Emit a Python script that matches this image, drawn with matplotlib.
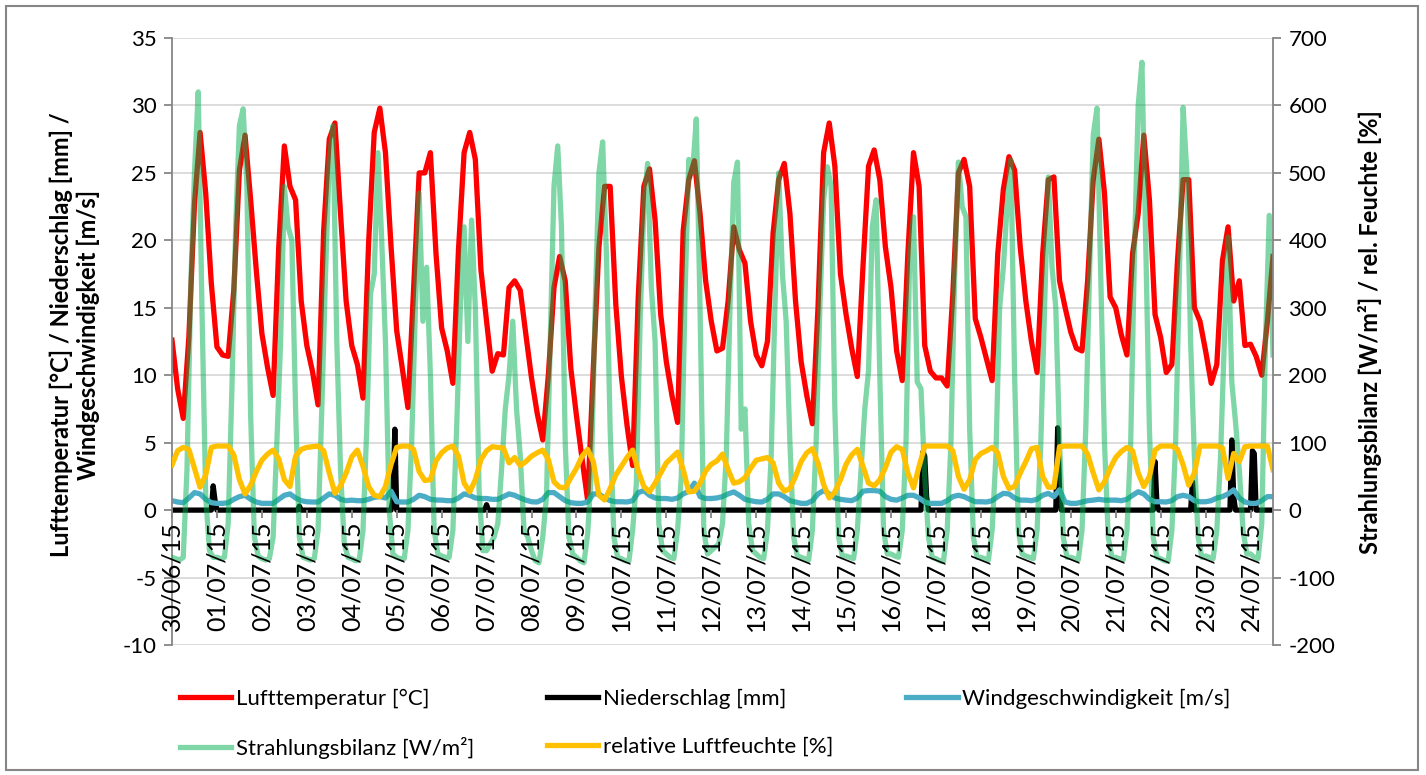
import numpy as np
import pandas as pd
import matplotlib
matplotlib.use('Agg')
import matplotlib.pyplot as plt
from matplotlib.patches import Rectangle

plt.rcParams['font.family'] = ['Lato', 'DejaVu Sans']
plt.rcParams['axes.unicode_minus'] = False

# day labels on the category axis
day_labels = list(pd.date_range('2015-06-30', periods=25, freq='D').strftime('%d/%m/%y'))

# Lufttemperatur [°C], 3-hourly (00,03,...,21 h), one row per day
temp_rows = [
    [12.6, 9.0, 6.8, 12.8, 22.7, 28.0, 23.5, 16.8],
    [12.1, 11.5, 11.4, 16.3, 25.2, 27.8, 23.0, 17.8],
    [13.1, 10.6, 8.5, 19.5, 27.0, 24.0, 23.0, 15.5],
    [12.2, 10.3, 7.8, 20.7, 27.5, 28.7, 22.0, 15.5],
    [12.2, 10.8, 8.3, 19.8, 28.0, 29.8, 26.5, 19.5],
    [13.3, 10.5, 7.6, 16.3, 25.0, 25.0, 26.5, 19.0],
    [13.5, 11.8, 9.4, 19.3, 26.5, 28.0, 26.0, 17.8],
    [14.0, 10.3, 11.6, 11.5, 16.5, 17.0, 16.3, 13.0],
    [9.8, 7.2, 5.2, 10.0, 16.5, 18.8, 17.0, 10.5],
    [7.0, 3.8, 0.7, 10.5, 19.5, 24.0, 24.0, 15.3],
    [9.9, 6.3, 3.3, 15.8, 24.0, 25.3, 21.5, 14.5],
    [11.0, 8.5, 6.5, 20.7, 24.5, 25.9, 22.0, 17.0],
    [14.0, 11.8, 12.0, 15.5, 21.0, 19.3, 18.3, 14.0],
    [11.5, 10.7, 12.5, 20.5, 24.5, 25.7, 22.0, 15.5],
    [11.0, 8.5, 6.4, 15.0, 26.5, 28.7, 25.5, 17.5],
    [14.5, 12.0, 9.9, 18.0, 25.5, 26.7, 24.5, 19.5],
    [16.5, 11.8, 9.6, 19.0, 26.5, 24.0, 12.2, 10.3],
    [9.8, 9.8, 9.2, 16.0, 25.0, 26.0, 24.0, 14.2],
    [12.8, 11.2, 9.6, 19.0, 23.8, 26.2, 25.2, 19.5],
    [15.5, 12.5, 10.2, 19.0, 24.5, 24.7, 17.0, 15.0],
    [13.2, 12.0, 11.8, 17.0, 24.5, 27.5, 23.5, 15.8],
    [15.0, 13.0, 11.5, 19.0, 22.0, 27.8, 23.0, 14.5],
    [12.8, 10.2, 10.8, 18.5, 24.5, 24.5, 15.0, 14.0],
    [11.8, 9.4, 10.8, 18.5, 21.0, 15.5, 17.0, 12.2],
    [12.3, 11.4, 10.0, 14.0, 18.8],
]

# Windgeschwindigkeit [m/s], 3-hourly
wind_rows = [
    [0.7, 0.6, 0.55, 0.9, 1.3, 1.2, 0.8, 0.55],
    [0.5, 0.5, 0.55, 0.8, 1.0, 1.1, 0.8, 0.6],
    [0.5, 0.5, 0.5, 0.8, 1.1, 1.2, 0.9, 0.7],
    [0.62, 0.6, 0.6, 0.9, 1.2, 1.1, 0.8, 0.7],
    [0.74, 0.7, 0.7, 0.8, 0.95, 1.0, 0.9, 1.4],
    [0.62, 0.6, 0.6, 0.8, 1.1, 1.0, 0.8, 0.75],
    [0.74, 0.7, 0.7, 0.9, 1.2, 1.1, 0.9, 0.86],
    [0.86, 0.8, 0.8, 1.0, 1.2, 1.1, 0.9, 0.74],
    [0.62, 0.6, 0.8, 1.3, 1.3, 1.0, 0.7, 0.55],
    [0.5, 0.5, 0.6, 1.2, 1.2, 0.9, 0.7, 0.62],
    [0.62, 0.6, 0.7, 1.3, 1.45, 1.1, 0.9, 0.86],
    [0.86, 0.8, 0.9, 1.2, 1.4, 2.0, 1.0, 0.86],
    [0.86, 0.9, 1.0, 1.2, 1.35, 1.1, 0.8, 0.7],
    [0.62, 0.6, 0.8, 1.2, 1.2, 1.0, 0.7, 0.6],
    [0.5, 0.5, 0.7, 1.2, 1.45, 1.2, 0.9, 0.8],
    [0.74, 0.7, 0.9, 1.4, 1.45, 1.45, 1.4, 1.0],
    [0.8, 0.74, 0.9, 1.1, 1.1, 0.9, 0.6, 0.5],
    [0.5, 0.5, 0.7, 1.0, 1.1, 1.0, 0.8, 0.62],
    [0.62, 0.6, 0.7, 1.0, 1.24, 1.2, 0.9, 0.74],
    [0.74, 0.7, 0.8, 1.1, 1.24, 1.0, 1.5, 0.6],
    [0.5, 0.5, 0.6, 0.7, 0.74, 0.8, 0.74, 0.74],
    [0.74, 0.7, 0.8, 1.1, 1.36, 1.2, 0.8, 0.62],
    [0.62, 0.6, 0.7, 1.0, 1.1, 1.0, 0.7, 0.62],
    [0.62, 0.7, 0.9, 1.0, 1.2, 1.5, 0.9, 0.6],
    [0.5, 0.5, 0.7, 1.0, 1.0],
]

# relative Luftfeuchte [%], 3-hourly
rh_rows = [
    [67, 88, 93, 90, 62, 34, 52, 93],
    [95, 95, 95, 82, 45, 24, 37, 57],
    [74, 83, 89, 76, 45, 35, 80, 90],
    [93, 94, 95, 88, 55, 25, 36, 55],
    [79, 89, 65, 35, 22, 20, 35, 68],
    [93, 95, 95, 90, 57, 44, 45, 73],
    [85, 92, 95, 80, 40, 27, 45, 75],
    [88, 94, 93, 92, 70, 78, 66, 72],
    [80, 85, 89, 75, 42, 34, 33, 48],
    [62, 80, 90, 72, 22, 15, 32, 52],
    [65, 78, 89, 58, 35, 27, 40, 55],
    [70, 78, 86, 60, 27, 28, 40, 58],
    [68, 73, 83, 60, 40, 42, 48, 62],
    [74, 76, 78, 70, 40, 28, 32, 50],
    [72, 85, 91, 70, 38, 18, 27, 45],
    [68, 82, 90, 65, 40, 36, 45, 63],
    [86, 94, 90, 55, 33, 65, 95, 95],
    [95, 95, 95, 88, 50, 31, 45, 75],
    [84, 88, 93, 85, 50, 32, 35, 55],
    [72, 91, 93, 50, 34, 34, 94, 95],
    [95, 95, 95, 83, 55, 30, 42, 62],
    [78, 87, 93, 88, 55, 35, 50, 89],
    [95, 95, 95, 90, 67, 37, 55, 95],
    [95, 95, 95, 92, 47, 84, 72, 94],
    [95, 95, 95, 95, 60],
]

# Strahlungsbilanz [W/m²], 2-hourly (00,02,...,22 h)
rad_rows = [
    [-70, -72, -74, -70, 60, 330, 500, 620, 300, 20, -60, -70],
    [-70, -72, -70, -20, 180, 420, 570, 595, 480, 140, -40, -68],
    [-72, -74, -72, -40, 100, 250, 480, 420, 400, 150, -40, -70],
    [-72, -74, -72, -30, 150, 350, 520, 570, 250, 60, -50, -70],
    [-72, -75, -74, -30, 120, 320, 350, 530, 400, 250, 0, -65],
    [-70, -72, -72, -30, 100, 300, 470, 280, 360, 200, -30, -65],
    [-68, -70, -70, -30, 120, 300, 420, 250, 430, 300, 30, -60],
    [-60, -50, -40, -20, 60, 150, 200, 280, 150, 80, -30, -40],
    [-60, -75, -78, -40, 20, 250, 480, 540, 420, 100, -40, -65],
    [-70, -75, -78, -35, 60, 300, 500, 546, 380, 120, -40, -70],
    [-72, -75, -76, -30, 40, 280, 450, 514, 330, 250, -20, -60],
    [-65, -70, -72, -30, 50, 320, 520, 500, 580, 300, -30, -65],
    [-60, -55, -50, -20, 80, 300, 486, 516, 120, 150, -20, -60],
    [-65, -70, -72, -30, 80, 300, 500, 350, 280, 100, -40, -68],
    [-70, -72, -74, -30, 100, 300, 460, 509, 480, 150, -40, -68],
    [-68, -70, -72, -30, 60, 150, 207, 420, 460, 200, -30, -65],
    [-65, -68, -70, -30, 100, 380, 435, 190, 180, 50, -40, -70],
    [-72, -75, -76, -30, 100, 350, 516, 450, 435, 120, -40, -70],
    [-70, -72, -74, -30, 80, 300, 360, 450, 519, 200, -30, -65],
    [-68, -70, -72, -30, 100, 300, 494, 360, 300, 100, -40, -70],
    [-70, -72, -74, -30, 120, 350, 556, 596, 350, 100, -40, -70],
    [-70, -72, -74, -30, 100, 380, 600, 664, 400, 120, -40, -70],
    [-72, -75, -76, -30, 100, 350, 597, 500, 250, 80, -40, -70],
    [-68, -70, -72, -30, 80, 250, 405, 190, 130, 60, -30, -65],
    [-65, -70, -72, -20, 250, 437, 230],
]

# Niederschlag [mm]: hourly, only the hours with rain
rain_hour = [22, 23, 68, 118, 119, 168, 401, 402, 403, 473, 474, 525, 526, 545, 566, 567, 577, 578]
rain_mm = [1.8, 0.7, 0.3, 0.8, 6.0, 0.4, 4.3, 4.0, 1.0, 6.1, 1.4, 3.6, 0.5, 2.1, 5.2, 1.0, 4.4, 4.2]

temp = np.concatenate([np.array(r, float) for r in temp_rows])
wind = np.concatenate([np.array(r, float) for r in wind_rows])
rh = np.concatenate([np.array(r, float) for r in rh_rows])
rad = np.concatenate([np.array(r, float) for r in rad_rows])
t3 = np.arange(len(temp)) * 3 / 24
t2 = np.arange(len(rad)) * 2 / 24
th = np.arange(24 * 24 + 13) / 24
rain = np.zeros(len(th))
rain[rain_hour] = rain_mm

W, H = 1426, 775
fig = plt.figure(figsize=(W / 100, H / 100), dpi=100)
ax = fig.add_axes([172 / W, 1 - 645 / H, (1273 - 172) / W, (645 - 38) / H])
ax2 = ax.twinx()

grey = '#868686'
lw = 3.8
l_temp, = ax.plot(t3, temp, color='#ff0000', lw=lw, label='Lufttemperatur [°C]')
l_rain, = ax.plot(th, rain, color='#000000', lw=lw, label='Niederschlag [mm]')
l_wind, = ax.plot(t3, wind, color='#4bacc6', lw=lw, label='Windgeschwindigkeit [m/s]')
l_rad, = ax2.plot(t2, rad, color='#00b050', alpha=0.5, lw=lw, label='Strahlungsbilanz [W/m²]')
l_rh, = ax2.plot(t3, rh, color='#ffc000', lw=lw, label='relative Luftfeuchte [%]')

ax.set_xlim(0, 24.5)
ax.set_ylim(-10, 35)
ax2.set_ylim(-200, 700)
ax.set_yticks(range(-10, 36, 5))
ax2.set_yticks(range(-200, 701, 100))
ax.yaxis.grid(True, color='#d9d9d9', lw=1.3)
ax.set_axisbelow(True)

for s in ['top', 'bottom', 'right']:
    ax.spines[s].set_visible(False)
for s in ['top', 'bottom', 'left']:
    ax2.spines[s].set_visible(False)
ax.spines['left'].set_color(grey)
ax2.spines['right'].set_color(grey)
ax.spines['left'].set_linewidth(1.3)
ax2.spines['right'].set_linewidth(1.3)

ax.tick_params(axis='y', labelsize=16, length=6, color=grey, width=1.3, pad=5)
ax2.tick_params(axis='y', labelsize=16, length=6, color=grey, width=1.3, pad=5)
ax.tick_params(axis='x', bottom=False, labelbottom=False)

# category axis sits at 0 and is drawn above the lines
ax2.xaxis.set_visible(True)
ax2.spines['bottom'].set_position(('data', 0))
ax2.set_axisbelow(False)
ax2.set_xticks(range(25), labels=day_labels)
ax2.tick_params(axis='x', bottom=True, labelbottom=True, length=6, color=grey, width=1.3,
                labelsize=18, labelrotation=90, pad=2)

fig.text(75 / W, 1 - 335 / H, 'Lufttemperatur [°C] / Niederschlag [mm] /\nWindgeschwindigkeit [m/s]',
         rotation=90, ha='center', va='center', fontsize=17, fontweight='bold', linespacing=1.2)
fig.text(1370 / W, 1 - 332 / H, 'Strahlungsbilanz [W/m²] / rel. Feuchte [%]',
         rotation=90, ha='center', va='center', fontsize=17, fontweight='bold')

fig.legend(handles=[l_temp, l_rad, l_rain, l_rh, l_wind], ncol=3, loc='upper left',
           bbox_to_anchor=(180 / W, 1 - 689 / H), frameon=False, fontsize=16,
           handlelength=2.3, handletextpad=0.2, columnspacing=3.3, labelspacing=1.25,
           borderaxespad=0, borderpad=0)

fig.add_artist(Rectangle((6 / W, 5 / H), 1412 / W, 764 / H, transform=fig.transFigure,
                         fill=False, edgecolor=grey, lw=1.5))

fig.savefig('out.png', dpi=100)
